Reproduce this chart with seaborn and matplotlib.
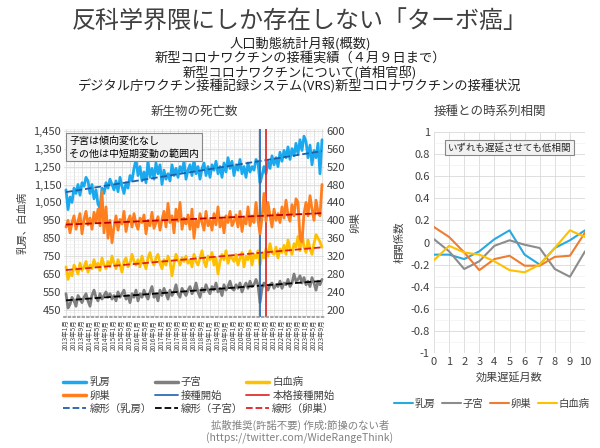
import matplotlib
matplotlib.use("Agg")
import matplotlib.pyplot as plt
from matplotlib.lines import Line2D
from matplotlib.ticker import FuncFormatter, MultipleLocator
import numpy as np
import pandas as pd
import seaborn as sns

# monthly deaths, 2013-01 .. 2023-09
breast = [1120, 1010, 1080, 1050, 1130, 1100, 1150, 1090, 1160, 1140, 1190, 1170,
          1100, 1150, 1070, 1120, 1040, 1020, 1130, 1100, 1160, 1130, 1180, 1150,
          1120, 1170, 1110, 1190, 1140, 1100, 1160, 1130, 1200, 1170, 1240, 1290,
          1200, 1250, 1170, 1220, 1160, 1280, 1190, 1240, 1180, 1270, 1210, 1260,
          1150, 1230, 1180, 1210, 1170, 1260, 1200, 1240, 1190, 1250, 1220, 1280,
          1180, 1230, 1260, 1200, 1290, 1210, 1250, 1180, 1240, 1270, 1200, 1250,
          1190, 1260, 1230, 1280, 1210, 1250, 1190, 1270, 1220, 1300, 1240, 1280,
          1200, 1260, 1230, 1290, 1210, 1250, 1190, 1270, 1220, 1250, 1230, 1290,
          1270, 1160, 1200, 1250, 1210, 1280, 1240, 1310, 1260, 1300, 1250, 1330,
          1280, 1340, 1300, 1360, 1290, 1350, 1310, 1380, 1320, 1400, 1340, 1420,
          1390, 1300, 1370, 1260, 1340, 1300, 1380, 1210, 1400]
uterus = [540, 460, 480, 520, 500, 470, 530, 510, 490, 520, 540, 500,
          470, 530, 560, 520, 500, 540, 510, 530, 550, 520, 540, 510,
          530, 500, 550, 520, 540, 560, 510, 530, 490, 540, 520, 560,
          500, 540, 520, 560, 530, 510, 550, 580, 520, 540, 500, 560,
          530, 570, 540, 510, 560, 530, 550, 590, 540, 520, 570, 550,
          530, 560, 580, 540, 560, 600, 550, 520, 570, 550, 590, 560,
          540, 580, 560, 600, 550, 570, 530, 590, 560, 580, 610, 570,
          560, 590, 570, 600, 550, 580, 600, 570, 610, 580, 590, 620,
          590, 490, 570, 600, 580, 560, 590, 600, 570, 590, 580, 610,
          570, 600, 590, 620, 580, 600, 650, 610, 620, 640, 600, 630,
          590, 610, 580, 630, 600, 560, 610, 590, 620]
leukemia = [690, 620, 660, 640, 700, 680, 650, 710, 670, 690, 720, 660,
            700, 680, 730, 690, 710, 670, 740, 700, 680, 720, 690, 750,
            710, 680, 730, 700, 660, 720, 740, 690, 710, 760, 720, 700,
            730, 690, 750, 710, 680, 740, 770, 720, 700, 740, 760, 710,
            680, 730, 700, 750, 720, 640, 710, 760, 730, 700, 740, 720,
            750, 710, 730, 690, 760, 720, 700, 740, 780, 720, 690, 750,
            730, 770, 700, 740, 650, 720, 760, 730, 780, 710, 750, 740,
            720, 760, 700, 740, 770, 690, 750, 730, 780, 700, 760, 740,
            780, 700, 760, 740, 790, 750, 820, 770, 760, 800, 740, 790,
            770, 810, 760, 840, 790, 760, 820, 800, 860, 780, 880, 800,
            770, 840, 790, 760, 820, 870, 850, 830, 800]
ovary = [385, 400, 372, 395, 410, 380, 398, 415, 370, 402, 420, 390,
         405, 380, 418, 395, 425, 388, 464, 372, 430, 360, 400, 350,
         385, 410, 378, 402, 392, 420, 375, 398, 410, 385, 415, 392,
         380, 405, 395, 412, 370, 400, 388, 418, 382, 395, 408, 378,
         402, 420, 385, 438, 395, 410, 372, 425, 398, 440, 380, 405,
         392, 412, 380, 425, 360, 400, 385, 415, 395, 378, 420, 388,
         400, 378, 415, 390, 430, 385, 405, 372, 410, 395, 420, 388,
         398, 412, 385, 420, 375, 405, 392, 430, 388, 410, 395, 440,
         400, 370, 405, 460, 398, 440, 410, 385, 425, 400, 415, 395,
         430, 405, 445, 412, 398, 435, 410, 448, 440, 360, 352, 415,
         440, 410, 455, 425, 400, 445, 420, 410, 480]

vax_start = "2021年2月"
vax_full = "2021年5月"

# correlation vs lag (months)
lags = list(range(11))
corr_breast = [-0.11, -0.11, -0.15, -0.08, 0.03, 0.11, -0.11, -0.20, -0.05, 0.02, 0.11]
corr_uterus = [0.03, -0.08, -0.24, -0.17, -0.03, 0.02, -0.02, -0.05, -0.24, -0.31, -0.08]
corr_ovary = [0.14, 0.05, -0.09, -0.25, -0.15, -0.12, -0.21, -0.21, -0.13, -0.12, 0.09]
corr_leuk = [-0.16, -0.03, -0.09, -0.11, -0.17, -0.25, -0.27, -0.20, -0.05, 0.11, 0.05]

months = [f"{y}年{m}月" for y in range(2013, 2024) for m in range(1, 13)][:len(breast)]

sns.set_theme(style="whitegrid")
plt.rcParams['font.family'] = ['Noto Sans CJK JP', 'DejaVu Sans']

C_BLUE, C_GRAY, C_ORANGE, C_YELLOW = '#1aa9ee', '#7f7f7f', '#ff7f1e', '#ffc000'
TXT = '#404040'

df = pd.DataFrame({'i': range(len(months)), 'month': months, '乳房': breast,
                   '子宮': uterus, '白血病': leukemia, '卵巣': ovary})
cdf = pd.DataFrame({'lag': lags, '乳房': corr_breast, '子宮': corr_uterus,
                    '卵巣': corr_ovary, '白血病': corr_leuk})

fig = plt.figure(figsize=(6, 4.48), dpi=100)
W, H = 600, 448
ax = fig.add_axes([64 / W, 1 - 317 / H, 260 / W, 188 / H])
ax2 = ax.twinx()

for col, c in [('乳房', C_BLUE), ('子宮', C_GRAY), ('白血病', C_YELLOW)]:
    sns.lineplot(data=df, x='i', y=col, color=c, lw=2.0, ax=ax)
sns.lineplot(data=df, x='i', y='卵巣', color=C_ORANGE, lw=2.0, ax=ax2)

for col, c in [('乳房', '#1f5fa8'), ('子宮', 'black'), ('白血病', '#e02020')]:
    sns.regplot(data=df, x='i', y=col, scatter=False, ci=None, ax=ax,
                line_kws=dict(color=c, ls='--', lw=1.3))
sns.regplot(data=df, x='i', y='卵巣', scatter=False, ci=None, ax=ax2,
            line_kws=dict(color='#c00000', ls='--', lw=1.3))

ax.axvline(months.index(vax_start), color='#2e6db4', lw=1.3)
ax.axvline(months.index(vax_full), color='#e03030', lw=1.3)

ax.set_ylim(410, 1460)
ax2.set_ylim(184, 604)
ax.set_yticks(range(450, 1451, 100))
ax2.set_yticks(range(200, 601, 40))
ax.yaxis.set_major_formatter(FuncFormatter(lambda v, p: f"{int(v):,}"))
ax.set_xlim(-1, len(months))
ax.set_xticks(range(0, len(months), 4))
ax.set_xticklabels(months[::4], rotation=90, fontsize=4.6, color=TXT)
ax.xaxis.set_minor_locator(MultipleLocator(2))
ax.yaxis.set_minor_locator(MultipleLocator(20))
ax.grid(True, which='major', color='#d9d9d9', lw=0.6)
ax.grid(True, which='minor', color='#eeeeee', lw=0.4)
ax2.grid(False)
for a in (ax, ax2):
    for s in a.spines.values():
        s.set_visible(False)
    a.tick_params(axis='both', which='both', length=0, pad=2, labelsize=8, labelcolor=TXT)
ax.spines['bottom'].set_visible(True)
ax.spines['bottom'].set_color('#999999')
ax.spines['bottom'].set_linestyle(':')
ax.tick_params(axis='x', labelsize=4.6, pad=2)
ax.set_xlabel('')
ax.set_ylabel('乳房、白血病', fontsize=7.5, color=TXT)
ax2.set_ylabel('卵巣', fontsize=7.5, color=TXT)
fig.text(194 / W, 1 - 111 / H, '新生物の死亡数', ha='center', va='center', fontsize=9, color=TXT)
ax.text(0.02, 0.965, '子宮は傾向変化なし\nその他は中短期変動の範囲内', transform=ax.transAxes,
        fontsize=7.2, color='black', va='top', ha='left', linespacing=1.35,
        bbox=dict(facecolor='#f2f2f2', edgecolor='#888888', lw=0.8, boxstyle='square,pad=0.3'))

handles = [Line2D([], [], color=C_BLUE, lw=2.5), Line2D([], [], color=C_ORANGE, lw=2.5),
           Line2D([], [], color='#1f5fa8', lw=1.3, ls='--'),
           Line2D([], [], color=C_GRAY, lw=2.5), Line2D([], [], color='#2e6db4', lw=1.3),
           Line2D([], [], color='black', lw=1.3, ls='--'),
           Line2D([], [], color=C_YELLOW, lw=2.5), Line2D([], [], color='#e03030', lw=1.3),
           Line2D([], [], color='#e02020', lw=1.3, ls='--')]
labels = ['乳房', '卵巣', '線形（乳房）', '子宮', '接種開始', '線形（子宮）',
          '白血病', '本格接種開始', '線形（卵巣）']
fig.legend(handles, labels, ncol=3, loc='upper left', bbox_to_anchor=(54 / W, 1 - 368 / H),
           frameon=False, fontsize=7.5, handlelength=2.2, handletextpad=0.3,
           columnspacing=0.3, labelspacing=0.3, labelcolor=TXT)

# right panel
axr = fig.add_axes([434 / W, 1 - 353 / H, 151 / W, 221 / H])
for col, c in [('乳房', '#2aa8e0'), ('子宮', '#8c8c8c'), ('卵巣', '#ed7d31'), ('白血病', '#ffc000')]:
    sns.lineplot(data=cdf, x='lag', y=col, color=c, lw=1.5, ax=axr, label=col, legend=False)
axr.set_xlim(0, 10)
axr.set_ylim(-1, 1)
axr.set_xticks(range(0, 11))
axr.set_yticks(np.arange(-1, 1.01, 0.2))


def corr_fmt(v, p):
    if abs(v) < 1e-9:
        return '0'
    if abs(abs(v) - 1) < 1e-9:
        return f"{v:.0f}"
    return f"{v:.1f}"


axr.yaxis.set_major_formatter(FuncFormatter(corr_fmt))
axr.yaxis.set_minor_locator(MultipleLocator(0.1))
axr.grid(True, which='major', color='#d9d9d9', lw=0.6)
axr.grid(True, which='minor', color='#eeeeee', lw=0.4)
for s in axr.spines.values():
    s.set_visible(False)
axr.tick_params(axis='both', which='both', length=0, pad=3, labelsize=8, labelcolor=TXT)
axr.set_xlabel('効果遅延月数', fontsize=8, color=TXT)
axr.set_ylabel('相関係数', fontsize=7.5, color=TXT)
fig.text(490 / W, 1 - 111 / H, '接種との時系列相関', ha='center', va='center', fontsize=9, color=TXT)
axr.text(0.5, 0.93, 'いずれも遅延させても低相関', transform=axr.transAxes, fontsize=6.8,
         ha='center', va='center',
         bbox=dict(facecolor='#f2f2f2', edgecolor='#888888', lw=0.8, boxstyle='square,pad=0.3'))
rh, rl = axr.get_legend_handles_labels()
fig.legend(rh, rl, ncol=4, loc='center', bbox_to_anchor=(492 / W, 1 - 404 / H), frameon=False,
           fontsize=7.5, handlelength=1.8, handletextpad=0.2, columnspacing=0.6, labelcolor=TXT)

# header / footer
fig.text(0.5, 1 - 22 / H, '反科学界隈にしか存在しない「ターボ癌」', ha='center', va='center',
         fontsize=17.3, color='#404040')
subs = ['人口動態統計月報(概数)', '新型コロナワクチンの接種実績（４月９日まで）',
        '新型コロナワクチンについて(首相官邸)',
        'デジタル庁ワクチン接種記録システム(VRS)新型コロナワクチンの接種状況']
for k, s in enumerate(subs):
    fig.text(0.5, 1 - (44 + 14.3 * k) / H, s, ha='center', va='center', fontsize=9.5, color='#202020')
fig.text(0.5, 1 - 425 / H, '拡散推奨(許諾不要) 作成:節操のない者', ha='center', va='center',
         fontsize=7.5, color='#808080')
fig.text(0.5, 1 - 438 / H, '(https://twitter.com/WideRangeThink)', ha='center', va='center',
         fontsize=7.5, color='#808080')

fig.savefig('out.png', dpi=100, facecolor='white')
